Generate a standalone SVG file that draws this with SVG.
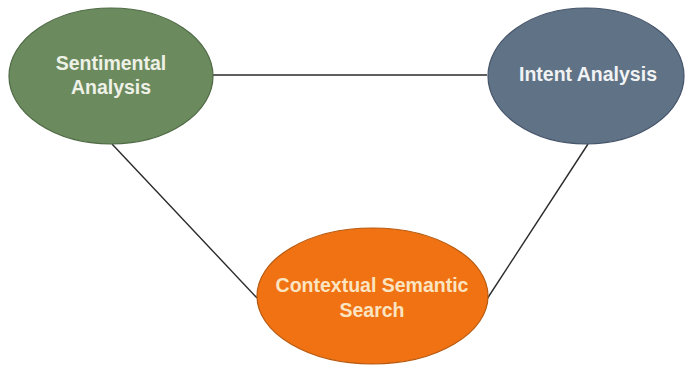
<svg xmlns="http://www.w3.org/2000/svg" width="685" height="367" viewBox="0 0 685 367">
<style>
.lbl{font-family:"Liberation Sans",Arial,sans-serif;font-weight:bold;font-size:19.5px;text-anchor:middle}
.edge{stroke:#2a2a2a;stroke-width:1.4;fill:none}
</style>
<rect width="685" height="367" fill="#ffffff"/>
<g id="connectors">
<line class="edge" x1="213" y1="75" x2="487" y2="75"/>
<line class="edge" x1="112" y1="144" x2="257" y2="298"/>
<line class="edge" x1="588" y1="144" x2="487" y2="299"/>
</g>
<g id="sentimental">
<ellipse cx="111" cy="76" rx="102" ry="68" fill="#6b8a5e" stroke="#4f6a45" stroke-width="1.2"/>
<text class="lbl" x="111" y="70" fill="#eef1e6">Sentimental</text>
<text class="lbl" x="111" y="94" fill="#eef1e6">Analysis</text>
</g>
<g id="intent">
<ellipse cx="586" cy="76" rx="98" ry="68" fill="#607285" stroke="#46556a" stroke-width="1.2"/>
<text class="lbl" x="588" y="81" fill="#f1f2f4">Intent Analysis</text>
</g>
<g id="contextual">
<ellipse cx="372.5" cy="296" rx="115.5" ry="68" fill="#f07212" stroke="#b85a10" stroke-width="1.2"/>
<text class="lbl" x="372" y="292" fill="#fbe4c2">Contextual Semantic</text>
<text class="lbl" x="372" y="317" fill="#fbe4c2">Search</text>
</g>
</svg>
